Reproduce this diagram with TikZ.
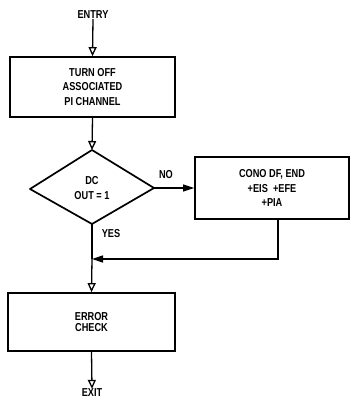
\documentclass[tikz,border=0pt]{standalone}
\usepackage{fontspec}
\setmainfont{Liberation Sans}[FakeStretch=0.8]
\usetikzlibrary{arrows.meta}
\begin{document}
\begin{tikzpicture}[x=1pt,y=1pt,
  txt/.style={font=\fontsize{11.5}{14.5}\selectfont\bfseries, align=center, inner sep=0pt},
  procbox/.style={draw, line width=1.7pt, minimum width=#1, inner sep=0pt},
  flow/.style={line width=1.3pt, -{Triangle[open,length=9pt,width=8pt,line width=1.3pt]}},
  flowf/.style={line width=1.3pt, -{Triangle[length=11pt,width=7pt]}}]
\useasboundingbox (0,0) rectangle (364,402);
% entry
\node[txt] (entry) at (93,387) {ENTRY};
\node[procbox=165pt, minimum height=60pt, txt] (b1) at (92.5,315) {TURN OFF\\ASSOCIATED\\PI CHANNEL};
% diamond
\coordinate (dt) at (92,252);
\coordinate (dl) at (30,213);
\coordinate (dr) at (154,214);
\coordinate (db) at (92,178);
\draw[line width=1.7pt, line join=round] (dt) -- (dr) -- (db) -- (dl) -- cycle;
\node[txt] (dtext) at (92,214) {DC\\OUT = 1};
\node[procbox=154pt, minimum height=62pt, txt] (b2) at (272,214) {CONO DF, END\\+EIS \ +EFE\\+PIA};
\node[txt] (no) at (166,227) {NO};
\node[txt] (yes) at (111,168) {YES};
\node[procbox=167pt, minimum height=58pt, txt, font=\fontsize{11.5}{11.5}\selectfont\bfseries] (b3) at (91.5,80) {ERROR\\CHECK};
\node[txt] (exit) at (92,9) {EXIT};
\coordinate (j) at (92,143);
\coordinate (c1) at (278,143);
% connectors
\draw[flow] (entry.south) -- (b1.north);
\draw[flow] (b1.south) -- (dt);
\draw[flowf] (dr) -- (b2.west);
\draw[line width=1.3pt] (db) -- (j);
\draw[flowf] (b2.south -| c1) -- (c1) -- (j);
\draw[flow] (j) -- (b3.north);
\draw[flow] (b3.south) -- (exit.north);
\end{tikzpicture}
\end{document}
